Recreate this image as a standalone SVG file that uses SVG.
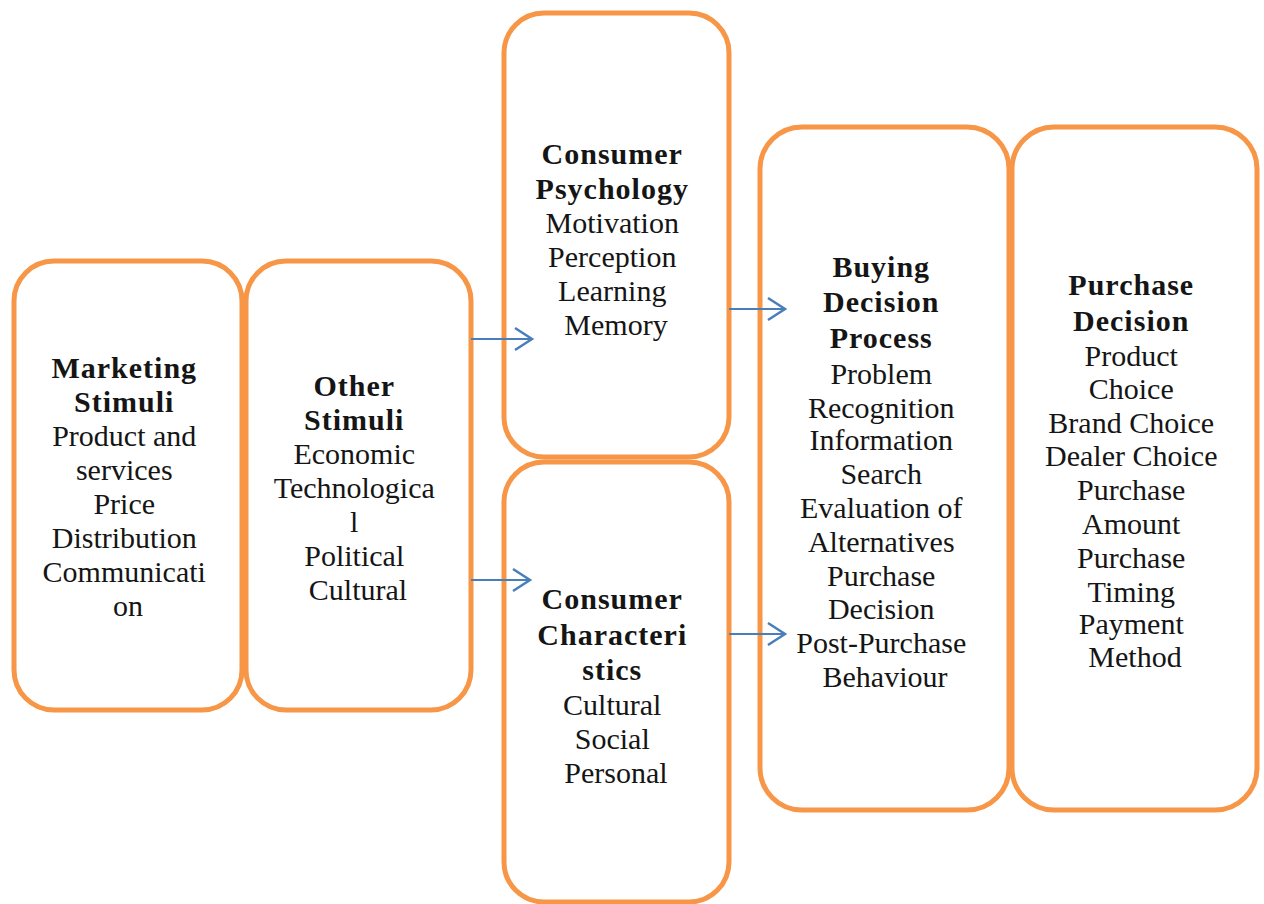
<svg xmlns="http://www.w3.org/2000/svg" width="1264" height="904" viewBox="0 0 1264 904">
  <style>
    .box { fill: #ffffff; stroke: #F79646; stroke-width: 5; }
    .t { font-family: "Liberation Serif", "Times New Roman", serif; font-size: 30px; fill: #151515; text-anchor: middle; }
    .h { font-weight: bold; letter-spacing: 1px; }
    .link { stroke: #4A7EBB; stroke-width: 2.2; fill: none; }
  </style>
  <defs>
    <marker id="chevron" viewBox="-20 -14 24 28" markerWidth="24" markerHeight="28" refX="0" refY="0" orient="auto" markerUnits="userSpaceOnUse">
      <path d="M-17,-11 L0,0 L-17,11" fill="none" stroke="#4A7EBB" stroke-width="2.5" stroke-linejoin="miter"/>
    </marker>
  </defs>

  <rect x="0" y="0" width="1264" height="904" fill="#ffffff"/>

  <!-- Marketing Stimuli -->
  <g id="marketing-stimuli">
    <rect class="box" x="14" y="261" width="228" height="449" rx="40" ry="40"/>
    <text class="t" x="128">
      <tspan class="h" x="128" y="378">Marketing</tspan>
      <tspan class="h" x="128" y="412">Stimuli</tspan>
      <tspan x="128" y="446">Product and</tspan>
      <tspan x="128" y="480">services</tspan>
      <tspan x="128" y="514">Price</tspan>
      <tspan x="128" y="548">Distribution</tspan>
      <tspan x="128" y="582">Communicati</tspan>
      <tspan x="128" y="616">on</tspan>
    </text>
  </g>

  <!-- Other Stimuli -->
  <g id="other-stimuli">
    <rect class="box" x="246" y="261" width="225" height="449" rx="40" ry="40"/>
    <text class="t" x="358">
      <tspan class="h" x="358" y="396">Other</tspan>
      <tspan class="h" x="358" y="430">Stimuli</tspan>
      <tspan x="358" y="464">Economic</tspan>
      <tspan x="358" y="498">Technologica</tspan>
      <tspan x="358" y="532">l</tspan>
      <tspan x="358" y="566">Political</tspan>
      <tspan x="358" y="600">Cultural</tspan>
    </text>
  </g>

  <!-- Consumer Psychology -->
  <g id="consumer-psychology">
    <rect class="box" x="504" y="13" width="225" height="444" rx="40" ry="40"/>
    <text class="t" x="616">
      <tspan class="h" x="616" y="164">Consumer</tspan>
      <tspan class="h" x="616" y="199">Psychology</tspan>
      <tspan x="616" y="233">Motivation</tspan>
      <tspan x="616" y="267">Perception</tspan>
      <tspan x="616" y="301">Learning</tspan>
      <tspan x="616" y="335">Memory</tspan>
    </text>
  </g>

  <!-- Consumer Characteristics -->
  <g id="consumer-characteristics">
    <rect class="box" x="504" y="462" width="225" height="440" rx="40" ry="40"/>
    <text class="t" x="616">
      <tspan class="h" x="616" y="609">Consumer</tspan>
      <tspan class="h" x="616" y="645">Characteri</tspan>
      <tspan class="h" x="616" y="680">stics</tspan>
      <tspan x="616" y="715">Cultural</tspan>
      <tspan x="616" y="749">Social</tspan>
      <tspan x="616" y="783">Personal</tspan>
    </text>
  </g>

  <!-- Buying Decision Process -->
  <g id="buying-decision-process">
    <rect class="box" x="760" y="127" width="249" height="683" rx="42" ry="42"/>
    <text class="t" x="885">
      <tspan class="h" x="885" y="277">Buying</tspan>
      <tspan class="h" x="885" y="312">Decision</tspan>
      <tspan class="h" x="885" y="348">Process</tspan>
      <tspan x="885" y="384">Problem</tspan>
      <tspan x="885" y="418">Recognition</tspan>
      <tspan x="885" y="450">Information</tspan>
      <tspan x="885" y="484">Search</tspan>
      <tspan x="885" y="518">Evaluation of</tspan>
      <tspan x="885" y="552">Alternatives</tspan>
      <tspan x="885" y="586">Purchase</tspan>
      <tspan x="885" y="619">Decision</tspan>
      <tspan x="885" y="653">Post-Purchase</tspan>
      <tspan x="885" y="687">Behaviour</tspan>
    </text>
  </g>

  <!-- Purchase Decision -->
  <g id="purchase-decision">
    <rect class="box" x="1012" y="127" width="245" height="683" rx="42" ry="42"/>
    <text class="t" x="1135">
      <tspan class="h" x="1135" y="295">Purchase</tspan>
      <tspan class="h" x="1135" y="331">Decision</tspan>
      <tspan x="1135" y="366">Product</tspan>
      <tspan x="1135" y="399">Choice</tspan>
      <tspan x="1135" y="433">Brand Choice</tspan>
      <tspan x="1135" y="466">Dealer Choice</tspan>
      <tspan x="1135" y="500">Purchase</tspan>
      <tspan x="1135" y="534">Amount</tspan>
      <tspan x="1135" y="568">Purchase</tspan>
      <tspan x="1135" y="602">Timing</tspan>
      <tspan x="1135" y="634">Payment</tspan>
      <tspan x="1135" y="667">Method</tspan>
    </text>
  </g>

  <!-- Connectors -->
  <g id="connectors">
    <line class="link" x1="471" y1="339" x2="532" y2="339" marker-end="url(#chevron)"/>
    <line class="link" x1="471" y1="580" x2="530" y2="580" marker-end="url(#chevron)"/>
    <line class="link" x1="729" y1="309" x2="785" y2="309" marker-end="url(#chevron)"/>
    <line class="link" x1="729" y1="634" x2="785" y2="634" marker-end="url(#chevron)"/>
  </g>
</svg>
